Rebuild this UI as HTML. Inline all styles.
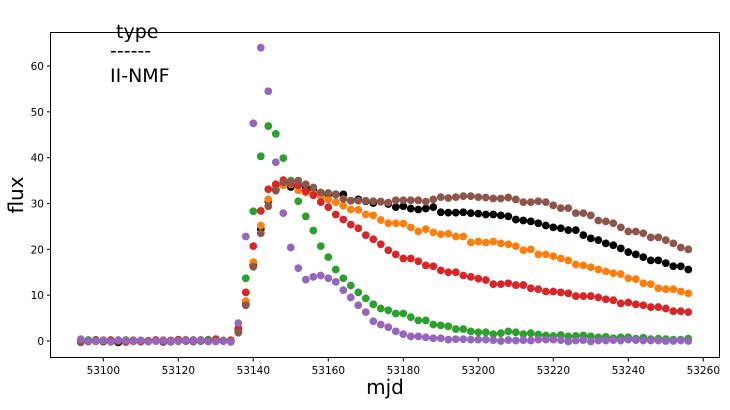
<!DOCTYPE html>
<html><head><meta charset="utf-8"><style>
body{margin:0;background:#fff;width:730px;height:405px;overflow:hidden}
svg text{font-family:"DejaVu Sans","Liberation Sans",sans-serif}
</style></head><body>
<svg id="chart" width="730" height="405" xmlns="http://www.w3.org/2000/svg">
<g id="marks"></g>
<rect x="50.5" y="32.5" width="669" height="325" fill="none" stroke="#000" stroke-width="1"/>
<g id="axes"></g>
<text x="385" y="394" font-size="20" text-anchor="middle">mjd</text>
<text transform="translate(23,195) rotate(-90)" font-size="20" text-anchor="middle">flux</text>
<g>
<text x="116" y="38" font-size="19">type</text>
<text x="110" y="57" font-size="19">------</text>
<text x="110" y="82" font-size="19">II-NMF</text>
</g>
</svg>
<script>
const preBlack=[0.1,0.0,0.2,-0.1,0.1,-0.3,0.0,0.1,-0.1,0.0,0.1,-0.2,0.0,0.2,0.1,-0.1,0.0,0.1,0.3,0.0,0.1];
const preOrange=[0.0,0.1,-0.1,0.2,0.0,0.1,-0.2,-0.1,0.0,0.1,0.0,0.2,0.1,-0.1,0.3,0.0,0.2,0.0,0.1,0.1,0.2];
const preGreen=[0.1,0.2,0.0,0.1,-0.1,0.0,0.2,0.1,0.0,-0.1,0.1,0.0,-0.2,0.1,0.0,0.2,0.0,0.3,0.0,0.1,0.0];
const preRed=[0.0,-0.1,0.1,0.0,0.2,0.0,-0.2,0.1,-0.1,0.0,0.2,-0.1,0.1,0.3,0.0,0.1,0.2,0.0,0.4,0.0,0.1];
const prePurple=[0.4,0.0,0.0,0.1,-0.2,0.2,0.1,0.0,0.1,-0.1,0.0,0.1,-0.1,0.0,0.2,0.0,0.2,-0.1,-0.1,0.0,-0.2];
const preBrown=[-0.3,0.0,0.1,0.0,0.0,0.1,0.0,0.0,0.1,0.0,0.0,0.1,0.0,0.1,0.0,0.0,0.1,0.0,0.0,0.0,0.0];
const riseBlack=[2.5,8,16.6,24.4,30.5,33,34,33.6,34,33.5,33,32.3,32,32,32,30.6,30.9,30.5,30.1,30.4,29.9,29.2,29.4,28.9,28.7,28.9,29.2,28.1,28,28,28.1,27.9,27.8,27.6,27.6,27.4,27.2,26.5,26.3,26.1,25.7,25.2,24.8,24.6,24.2,24.2,23.1,22.4,22.0,21.3,20.9,20.2,19.4,18.9,18.3,17.6,17.6,17.0,16.3,16.3,15.6];
const riseOrange=[2.3,8.7,17.2,25.2,30.9,33.7,34,34.2,32.9,32.4,32.2,31.5,30.9,30.3,29.5,28.7,28.6,27.6,27.4,26.4,25.7,25.7,25.6,24.8,23.9,24.4,23.7,23.3,23.4,22.8,22.8,21.5,21.7,21.5,21.7,21.3,21.1,20.7,19.8,20.0,18.9,18.9,18.5,18.0,17.6,16.7,16.5,16.1,15.6,15.2,14.8,14.6,13.7,13.5,12.6,12.4,11.5,11.3,11.3,10.8,10.4];
const riseGreen=[2.0,13.7,28.3,40.3,46.9,45.2,39.9,35,30.5,27.2,24.1,20.7,18.3,15.6,13.7,12.1,10.6,9.3,8.0,7.1,6.7,6.0,6.0,5.2,4.5,4.5,3.6,3.4,3.2,2.6,2.6,2.1,1.9,1.9,1.5,1.7,2.1,1.9,1.5,1.7,1.4,1.2,1.1,1.3,1.0,1.1,1.2,1.0,0.8,0.9,0.6,0.8,0.8,0.5,0.7,0.4,0.5,0.4,0.3,0.3,0.5];
const riseRed=[2.8,10.6,20.7,28.4,33.1,34.2,35.1,34.4,34,32.7,31.8,30.3,29.2,27.6,26.5,25.4,24.6,23.1,22.2,21.1,19.8,18.9,18.0,18.0,17.4,16.5,16.3,15.4,15.0,15.0,14.3,14.0,13.6,13.3,12.4,12.4,12.6,12.2,12.2,11.5,11.3,10.8,10.8,10.6,10.4,9.8,9.8,9.8,9.5,9.1,8.9,8.2,8.4,8.0,7.8,7.4,7.4,7.1,6.5,6.5,6.3];
const risePurple=[3.9,22.8,47.5,64,54.5,39,27.9,20.4,15.9,13.4,14,14.3,13.7,12.9,11.1,9.5,7.8,6.3,4.3,3.6,3.0,2.1,1.5,1.0,1.0,0.8,0.6,0.6,0.3,0.4,0.4,0.3,0.3,0.3,0.2,0.0,0.2,0.1,0.2,0.1,0.3,0.3,0.3,0.2,-0.1,0.1,0.2,-0.1,0.1,0.1,0.2,0.1,0.3,0.2,0.1,0.1,0.1,0.0,0.0,0.1,0.0];
const riseBrown=[1.8,7.8,16.2,23.5,29.4,32.8,34.6,34.7,35,34.2,33.5,32.4,32.3,31.9,31.0,30.6,30.6,30.6,30.5,30.4,30.2,30.7,30.7,30.7,30.7,30.4,30.9,31.4,31.2,31.4,31.6,31.6,31.4,31.3,31.1,31.1,31.3,30.9,30.3,30.3,30.5,30.3,29.6,29.0,29.0,27.9,27.9,27.4,26.3,26.1,25.7,24.8,23.9,23.9,23.5,22.6,22.6,22.0,21.3,20.4,20.0];
const xTicks=[53100,53120,53140,53160,53180,53200,53220,53240,53260];
const yTicks=[0,10,20,30,40,50,60];
const seriesNames=["black","orange","green","red","brown","purple"];
const seriesColors=["#000000","#ff7f0e","#2ca02c","#d62728","#8c564b","#9467bd"];
const seriesValues=[preBlack.concat(riseBlack),preOrange.concat(riseOrange),preGreen.concat(riseGreen),preRed.concat(riseRed),preBrown.concat(riseBrown),prePurple.concat(risePurple)];
const startMjd=53094, stepMjd=2;

const NS="http://www.w3.org/2000/svg";
function xs(v){return 103.3+(v-53100)*3.75;}
function ys(v){return 341-v*4.583;}
const marks=document.getElementById('marks');
seriesValues.forEach((vals,si)=>{
  const g=document.createElementNS(NS,'g');
  
  
  vals.forEach((v,i)=>{
    const c=document.createElementNS(NS,'circle');
    c.setAttribute('cx',xs(startMjd+i*stepMjd));
    c.setAttribute('cy',ys(v));
    c.setAttribute('r',3.9);
    c.setAttribute('fill',seriesColors[si]);
    
    
    g.appendChild(c);
  });
  marks.appendChild(g);
});
const axes=document.getElementById('axes');
xTicks.forEach(t=>{
  const x=xs(t);
  const l=document.createElementNS(NS,'line');
  l.setAttribute('x1',x);l.setAttribute('x2',x);l.setAttribute('y1',358);l.setAttribute('y2',361.5);
  l.setAttribute('stroke','#000');
  
  
  axes.appendChild(l);
  const tx=document.createElementNS(NS,'text');
  tx.setAttribute('x',x);tx.setAttribute('y',374);tx.setAttribute('font-size','10.5');tx.setAttribute('text-anchor','middle');
  tx.textContent=t;
  
  
  axes.appendChild(tx);
});
yTicks.forEach(t=>{
  const y=ys(t);
  const l=document.createElementNS(NS,'line');
  l.setAttribute('x1',47);l.setAttribute('x2',50.5);l.setAttribute('y1',y);l.setAttribute('y2',y);
  l.setAttribute('stroke','#000');
  
  
  axes.appendChild(l);
  const tx=document.createElementNS(NS,'text');
  tx.setAttribute('x',44);tx.setAttribute('y',y+4);tx.setAttribute('font-size','10.5');tx.setAttribute('text-anchor','end');
  tx.textContent=t;
  
  
  axes.appendChild(tx);
});
</script>
</body></html>
